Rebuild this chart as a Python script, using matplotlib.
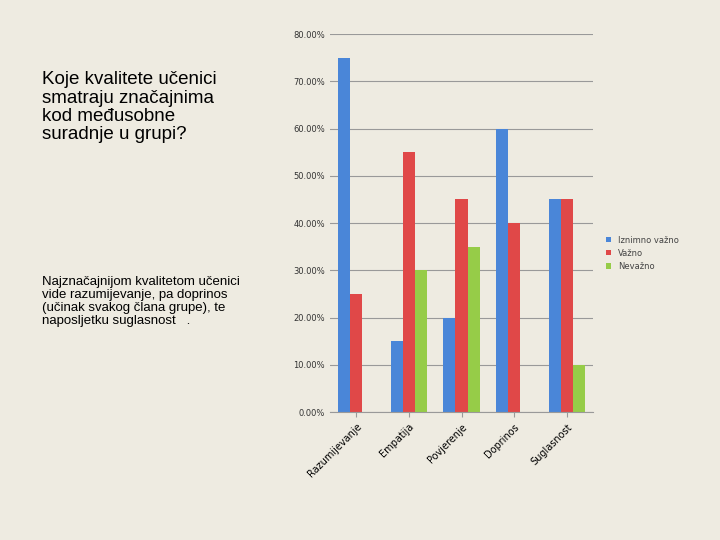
import matplotlib.pyplot as plt
import numpy as np

categories = ["Razumijevanje", "Empatija", "Povjerenje", "Doprinos", "Suglasnost"]
iznimno = [75, 15, 20, 60, 45]
vazno = [25, 55, 45, 40, 45]
nevazno = [0, 30, 35, 0, 10]
series_names = ["Iznimno važno", "Važno", "Nevažno"]

bg = "#eeebe1"
fig = plt.figure(figsize=(7.2, 5.4), dpi=100, facecolor=bg)
ax = fig.add_axes([0.458, 0.237, 0.366, 0.7], facecolor=bg)

x = np.arange(len(categories))
w = 0.23
colors = ["#4a86d8", "#e04848", "#96cc48"]
for i, (vals, c, n) in enumerate(zip([iznimno, vazno, nevazno], colors, series_names)):
    ax.bar(x + (i - 1) * w, vals, w, color=c, label=n)

ax.set_ylim(0, 80)
ax.set_xlim(-0.5, 4.5)
ax.set_yticks(range(0, 81, 10))
ax.set_yticklabels([f"{v:.2f}%" for v in range(0, 81, 10)], fontsize=6, color="#333333")
ax.yaxis.grid(True, color="#999999", linewidth=0.8)
ax.set_axisbelow(True)
ax.set_xticks(x)
ax.set_xticklabels(categories, rotation=45, ha="right", rotation_mode="anchor", fontsize=7)
for s in ["top", "right", "left"]:
    ax.spines[s].set_visible(False)
ax.spines["bottom"].set_color("#999999")
ax.tick_params(axis="y", length=0)
ax.tick_params(axis="x", color="#999999")

ax.legend(loc="center left", bbox_to_anchor=(1.02, 0.42), frameon=False, fontsize=6,
          handlelength=0.6, handleheight=0.6, labelcolor="#444444")

fig.text(0.058, 0.868, "Koje kvalitete učenici\nsmatraju značajnima\nkod međusobne\nsuradnje u grupi?",
         fontsize=13.5, va="top", ha="left", linespacing=1.1, family="Liberation Sans",
         fontweight="medium")
fig.text(0.058, 0.488, "Najznačajnijom kvalitetom učenici\nvide razumijevanje, pa doprinos\n(učinak svakog člana grupe), te\nnaposljetku suglasnost   .",
         fontsize=9.5, va="top", ha="left", linespacing=1.1, family="Liberation Sans")

fig.savefig("out.png", facecolor=bg)
